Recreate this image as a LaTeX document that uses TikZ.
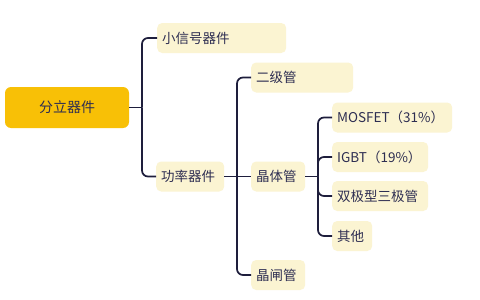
\documentclass[tikz,border=0pt]{standalone}
\usepackage{fontspec}
\setmainfont{Noto Sans CJK SC}
\begin{document}
\begin{tikzpicture}[x=1pt,y=-1pt,
  leaf/.style={anchor=west, fill=boxfill, rounded corners=5pt, minimum height=30pt,
    inner xsep=5pt, inner ysep=0pt, align=left, text=txt, font=\fontsize{13.5}{15}\selectfont},
  conn/.style={draw=linec, line width=1.7pt, rounded corners=6pt}]
\definecolor{boxfill}{HTML}{FBF4D2}
\definecolor{rootfill}{HTML}{F8C006}
\definecolor{txt}{HTML}{2E2E52}
\definecolor{linec}{HTML}{1E1E3C}
\useasboundingbox (0,0) rectangle (480,300);
\fill[white] (0,0) rectangle (480,300);
\node[fill=rootfill, rounded corners=6pt, minimum width=124pt, minimum height=41pt,
  text=txt, font=\fontsize{14}{16}\selectfont] (root) at (67,107.5) {分立器件};
\node[leaf, text width=119pt] (small) at (157,38) {小信号器件};
\node[leaf, text width=58pt] (power) at (156,176.5) {功率器件};
\node[leaf, text width=92pt] (diode) at (251,77.5) {二级管};
\node[leaf, text width=44pt] (trans) at (251,176.5) {晶体管};
\node[leaf, text width=44pt] (thyr) at (251,275) {晶闸管};
\node[leaf, text width=110pt] (mos) at (332,117.5) {MOSFET（31\%）};
\node[leaf, text width=86pt] (igbt) at (332,157) {IGBT（19\%）};
\node[leaf, text width=86pt] (bjt) at (332,196) {双极型三极管};
\node[leaf, text width=30pt] (other) at (332,236) {其他};
\coordinate (j1) at (142,107.5);
\coordinate (j2) at (237,176.5);
\coordinate (j3) at (318,176.5);
\draw[conn] (root.east) -- (j1);
\draw[conn] (j1) |- (small.west);
\draw[conn] (j1) |- (power.west);
\draw[conn] (power.east) -- (trans.west);
\draw[conn] (j2) |- (diode.west);
\draw[conn] (j2) |- (thyr.west);
\draw[conn] (trans.east) -- (j3);
\draw[conn] (j3) |- (mos.west);
\draw[conn] (j3) |- (igbt.west);
\draw[conn] (j3) |- (bjt.west);
\draw[conn] (j3) |- (other.west);
\end{tikzpicture}
\end{document}
